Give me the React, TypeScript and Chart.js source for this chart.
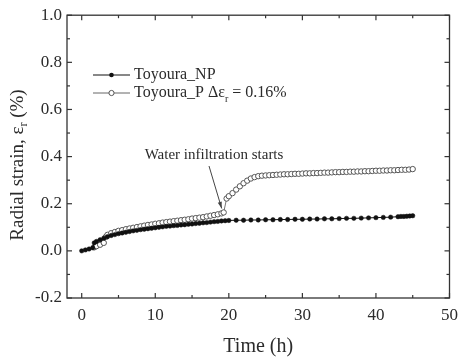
import React, { useEffect, useRef } from "react";
import { Chart, registerables } from "chart.js";

Chart.register(...registerables);

// ---------- data ----------
const npTime = [
  0, 0.5, 1, 1.5, 1.7, 2, 2.5, 3, 3.5, 4, 4.5, 5, 5.5, 6, 6.5, 7, 7.5, 8, 8.5, 9, 9.5, 10,
  10.5, 11, 11.5, 12, 12.5, 13, 13.5, 14, 14.5, 15, 15.5, 16, 16.5, 17, 17.5, 18, 18.5, 19,
  19.5, 20, 21, 22, 23, 24, 25, 26, 27, 28, 29, 30, 31, 32, 33, 34, 35, 36, 37, 38, 39, 40,
  41, 42, 43, 43.4, 43.8, 44.2, 44.6, 45,
];
const npStrain = [
  0, 0.004, 0.008, 0.013, 0.034, 0.04, 0.047, 0.054, 0.06, 0.065, 0.069, 0.073, 0.076, 0.079,
  0.082, 0.085, 0.087, 0.09, 0.092, 0.094, 0.096, 0.098, 0.1, 0.102, 0.104, 0.105, 0.107,
  0.108, 0.11, 0.111, 0.113, 0.114, 0.116, 0.117, 0.119, 0.12, 0.122, 0.124, 0.125, 0.127,
  0.128, 0.129, 0.13, 0.13, 0.131, 0.131, 0.132, 0.132, 0.133, 0.133, 0.134, 0.134, 0.135,
  0.135, 0.136, 0.136, 0.137, 0.138, 0.138, 0.139, 0.14, 0.141, 0.142, 0.143, 0.145, 0.146,
  0.146, 0.147, 0.148, 0.149,
];

const pTime = [
  1.7, 2, 2.5, 3, 3.3, 3.5, 4, 4.5, 5, 5.5, 6, 6.5, 7, 7.5, 8, 8.5, 9, 9.5, 10, 10.5, 11,
  11.5, 12, 12.5, 13, 13.5, 14, 14.5, 15, 15.5, 16, 16.5, 17, 17.5, 18, 18.5, 19, 19.3, 19.7,
  20, 20.5, 21, 21.5, 22, 22.5, 23, 23.5, 24, 24.5, 25, 25.5, 26, 26.5, 27, 27.5, 28, 28.5,
  29, 29.5, 30, 30.5, 31, 31.5, 32, 32.5, 33, 33.5, 34, 34.5, 35, 35.5, 36, 36.5, 37, 37.5,
  38, 38.5, 39, 39.5, 40, 40.5, 41, 41.5, 42, 42.5, 43, 43.5, 44, 44.5, 45,
];
const pStrain = [
  0.015, 0.02, 0.026, 0.034, 0.06, 0.068, 0.075, 0.08, 0.085, 0.088, 0.092, 0.095, 0.098,
  0.101, 0.104, 0.107, 0.11, 0.112, 0.115, 0.117, 0.12, 0.122, 0.124, 0.126, 0.128, 0.13,
  0.132, 0.134, 0.137, 0.139, 0.141, 0.143, 0.146, 0.149, 0.152, 0.155, 0.159, 0.163, 0.222,
  0.232, 0.245, 0.26, 0.274, 0.287, 0.298, 0.307, 0.313, 0.317, 0.319, 0.32, 0.321, 0.322,
  0.323, 0.324, 0.325, 0.325, 0.326, 0.327, 0.327, 0.328, 0.329, 0.329, 0.33, 0.33, 0.331,
  0.332, 0.332, 0.333, 0.334, 0.334, 0.335, 0.335, 0.336, 0.336, 0.337, 0.337, 0.338, 0.338,
  0.339, 0.34, 0.34, 0.341, 0.341, 0.342, 0.342, 0.343, 0.344, 0.344, 0.345, 0.347,
];

const xTickValues = [0, 10, 20, 30, 40, 50];
const xMinorValues = [5, 15, 25, 35, 45];
const yTickValues = [-0.2, 0, 0.2, 0.4, 0.6, 0.8, 1.0];
const yMinorValues = [-0.1, 0.1, 0.3, 0.5, 0.7, 0.9];

const legendNP = "Toyoura_NP";
const legendPMain = "Toyoura_P Δε";
const legendPSub = "r";
const legendPTail = " = 0.16%";
const annotationText = "Water infiltration starts";
const annotationTipIndex = 37; // index in pTime/pStrain where infiltration starts
const xTitle = "Time (h)";
const yTitleMain = "Radial strain, ε";
const yTitleSub = "r";
const yTitleTail = " (%)";

const FONT = '"Liberation Serif", "Times New Roman", serif';
const TEXT = "#2b2b2b";

const decorPlugin = {
  id: "decor",
  afterDraw(chart: any) {
    const { ctx, chartArea } = chart;
    const xs = chart.scales.x;
    const ys = chart.scales.y;
    const { left, right, top, bottom } = chartArea;
    ctx.save();
    ctx.strokeStyle = "#333";
    ctx.lineWidth = 1.3;
    ctx.strokeRect(left, top, right - left, bottom - top);

    ctx.lineWidth = 1.2;
    const tick = (x1: number, y1: number, x2: number, y2: number) => {
      ctx.beginPath();
      ctx.moveTo(x1, y1);
      ctx.lineTo(x2, y2);
      ctx.stroke();
    };
    xTickValues.forEach((v) => {
      const p = xs.getPixelForValue(v);
      tick(p, bottom, p, bottom - 5);
      tick(p, top, p, top + 5);
    });
    xMinorValues.forEach((v) => {
      const p = xs.getPixelForValue(v);
      tick(p, bottom, p, bottom - 3);
      tick(p, top, p, top + 3);
    });
    yTickValues.forEach((v) => {
      const p = ys.getPixelForValue(v);
      tick(left, p, left + 5, p);
      tick(right, p, right - 5, p);
    });
    yMinorValues.forEach((v) => {
      const p = ys.getPixelForValue(v);
      tick(left, p, left + 3, p);
      tick(right, p, right - 3, p);
    });

    // x title
    ctx.fillStyle = TEXT;
    ctx.font = `20px ${FONT}`;
    ctx.textAlign = "center";
    ctx.textBaseline = "middle";
    ctx.fillText(xTitle, (left + right) / 2, 347);

    // y title with subscript
    ctx.save();
    ctx.translate(18, 165);
    ctx.rotate(-Math.PI / 2);
    ctx.textAlign = "left";
    const mainFont = `19px ${FONT}`;
    const subFont = `12px ${FONT}`;
    ctx.font = mainFont;
    const w1 = ctx.measureText(yTitleMain).width;
    const w3 = ctx.measureText(yTitleTail).width;
    ctx.font = subFont;
    const w2 = ctx.measureText(yTitleSub).width;
    let x0 = -(w1 + w2 + w3) / 2;
    ctx.font = mainFont;
    ctx.fillText(yTitleMain, x0, 0);
    ctx.font = subFont;
    ctx.fillText(yTitleSub, x0 + w1, 6);
    ctx.font = mainFont;
    ctx.fillText(yTitleTail, x0 + w1 + w2, 0);
    ctx.restore();

    // legend
    const lx1 = 93, lx2 = 130, lmid = 111.5;
    const ly1 = 75, ly2 = 93;
    ctx.lineWidth = 1;
    ctx.strokeStyle = "#111";
    tick(lx1, ly1, lx2, ly1);
    ctx.fillStyle = "#111";
    ctx.beginPath();
    ctx.arc(lmid, ly1, 2.3, 0, Math.PI * 2);
    ctx.fill();
    ctx.strokeStyle = "#666";
    tick(lx1, ly2, lx2, ly2);
    ctx.fillStyle = "#fff";
    ctx.strokeStyle = "#555";
    ctx.beginPath();
    ctx.arc(lmid, ly2, 2.6, 0, Math.PI * 2);
    ctx.fill();
    ctx.stroke();

    ctx.fillStyle = TEXT;
    ctx.textAlign = "left";
    ctx.textBaseline = "middle";
    const lf = `16px ${FONT}`;
    ctx.font = lf;
    ctx.fillText(legendNP, 134, ly1);
    ctx.fillText(legendPMain, 134, ly2);
    const lw1 = ctx.measureText(legendPMain).width;
    ctx.font = `10px ${FONT}`;
    ctx.fillText(legendPSub, 134 + lw1, ly2 + 6);
    const lw2 = ctx.measureText(legendPSub).width;
    ctx.font = lf;
    ctx.fillText(legendPTail, 134 + lw1 + lw2, ly2);

    // annotation
    ctx.font = `15px ${FONT}`;
    ctx.textAlign = "center";
    ctx.fillText(annotationText, 214, 155);
    const tipX = xs.getPixelForValue(pTime[annotationTipIndex]) - 2;
    const tipY = ys.getPixelForValue(pStrain[annotationTipIndex]) - 4;
    const tailX = 209, tailY = 166;
    ctx.strokeStyle = "#444";
    ctx.lineWidth = 1;
    tick(tailX, tailY, tipX, tipY);
    const ang = Math.atan2(tipY - tailY, tipX - tailX);
    ctx.fillStyle = "#444";
    ctx.beginPath();
    ctx.moveTo(tipX, tipY);
    ctx.lineTo(tipX - 7 * Math.cos(ang - 0.3), tipY - 7 * Math.sin(ang - 0.3));
    ctx.lineTo(tipX - 7 * Math.cos(ang + 0.3), tipY - 7 * Math.sin(ang + 0.3));
    ctx.closePath();
    ctx.fill();
    ctx.restore();
  },
};

export default function App() {
  const ref = useRef<HTMLCanvasElement | null>(null);
  useEffect(() => {
    if (!ref.current) return;
    const chart = new Chart(ref.current, {
      type: "line",
      data: {
        datasets: [
          {
            label: legendNP,
            data: npTime.map((t, i) => ({ x: t, y: npStrain[i] })),
            borderColor: "#111",
            borderWidth: 1,
            pointRadius: 2.2,
            pointBackgroundColor: "#111",
            pointBorderColor: "#111",
            pointBorderWidth: 0.5,
            tension: 0,
          },
          {
            label: "Toyoura_P",
            data: pTime.map((t, i) => ({ x: t, y: pStrain[i] })),
            borderColor: "#777",
            borderWidth: 1,
            pointRadius: 2.7,
            pointBackgroundColor: "#fff",
            pointBorderColor: "#555",
            pointBorderWidth: 1,
            tension: 0,
          },
        ],
      },
      options: {
        animation: false,
        responsive: true,
        maintainAspectRatio: false,
        layout: { padding: { top: 13, right: 8, left: 0, bottom: 0 } },
        plugins: { legend: { display: false }, tooltip: { enabled: false } },
        scales: {
          x: {
            type: "linear",
            min: -2,
            max: 50,
            grid: { display: false, drawTicks: false },
            border: { display: false },
            afterBuildTicks: (s: any) => {
              s.ticks = xTickValues.map((v) => ({ value: v }));
            },
            afterFit: (s: any) => {
              s.height = 62;
            },
            ticks: {
              font: { family: FONT, size: 17 },
              color: TEXT,
              padding: 7,
              maxRotation: 0,
              autoSkip: false,
            },
          },
          y: {
            type: "linear",
            min: -0.2,
            max: 1.0,
            grid: { display: false, drawTicks: false },
            border: { display: false },
            afterBuildTicks: (s: any) => {
              s.ticks = yTickValues.map((v) => ({ value: v }));
            },
            afterFit: (s: any) => {
              s.width = 67;
            },
            ticks: {
              font: { family: FONT, size: 17 },
              color: TEXT,
              padding: 5,
              autoSkip: false,
              callback: (v: any) => Number(v).toFixed(1),
            },
          },
        },
      },
      plugins: [decorPlugin],
    });
    return () => chart.destroy();
  }, []);
  return (
    <div style={{ position: "absolute", left: 0, top: 0, width: 465, height: 360, background: "#fff" }}>
      <canvas ref={ref} />
    </div>
  );
}
